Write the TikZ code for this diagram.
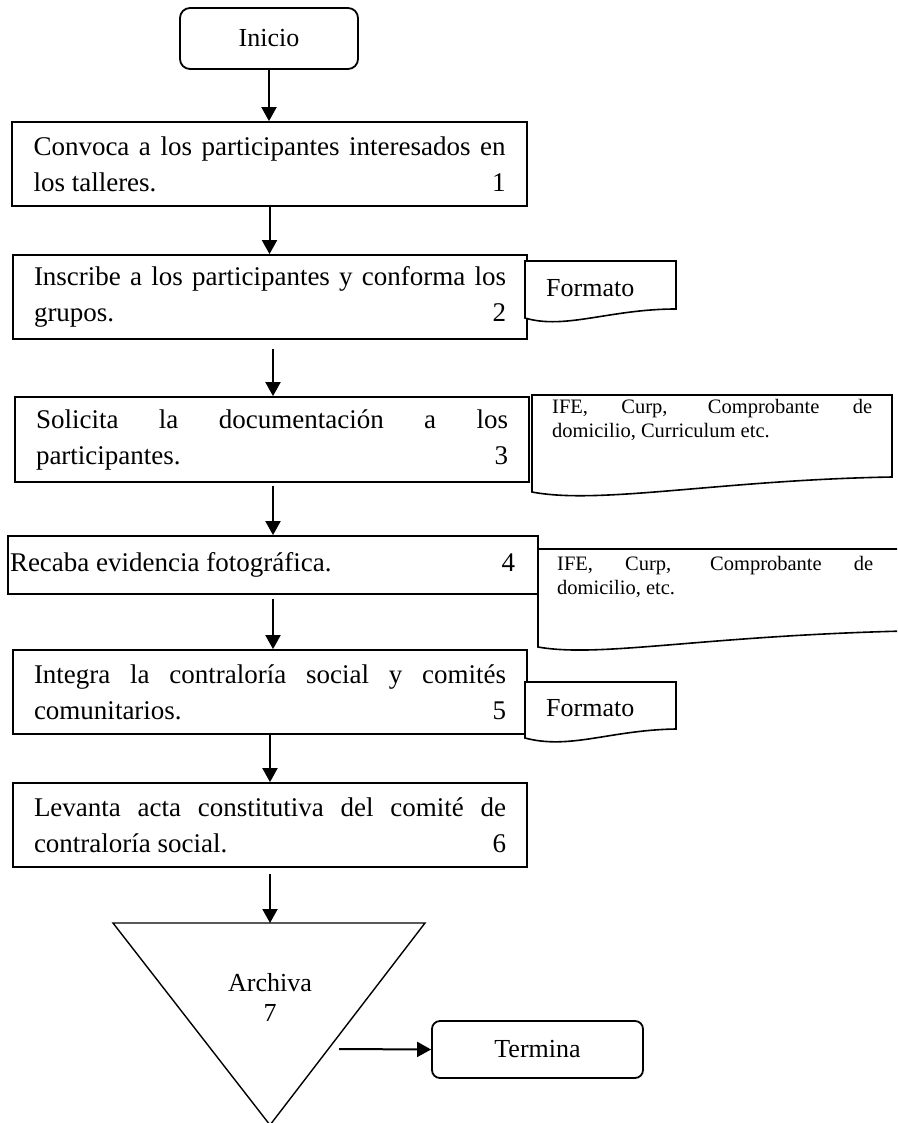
\documentclass[tikz,border=0pt]{standalone}
\usepackage{fontspec}
\setmainfont{Liberation Serif}
\usetikzlibrary{arrows.meta}
\begin{document}
\begin{tikzpicture}[x=1pt,y=-1pt,
  proc/.style={draw, line width=1.8pt, inner sep=0pt, minimum height=84pt,
    font=\fontsize{27}{36}\selectfont},
  term/.style={draw, line width=1.8pt, rounded corners=10pt, inner sep=0pt,
    font=\fontsize{26}{30}\selectfont},
  flow/.style={line width=2pt, -{Triangle[length=14pt,width=15pt]}},
  docline/.style={draw, fill=white, line width=1.6pt},
  doctext/.style={inner sep=0pt, anchor=west},
  small/.style={font=\fontsize{20.5}{23.5}\selectfont},
  big/.style={font=\fontsize{26}{30}\selectfont}
]
\useasboundingbox (0,0) rectangle (897,1123);
\clip (0,0) rectangle (897,1123);

% start and end terminals
\node[term, minimum width=178pt, minimum height=61pt] (ini) at (269,38.5) {Inicio};
\node[term, rounded corners=8pt, minimum width=211pt, minimum height=57pt] (fin) at (537.5,1049.5) {Termina};

% process steps
\node[proc, minimum width=515pt] (b1) at (269.5,164) {\parbox{472pt}{\hyphenpenalty=10000
  Convoca a los participantes interesados en\linebreak los talleres.\hfill 1}};
\node[proc, minimum width=514pt] (b2) at (270,297) {\parbox{472pt}{\hyphenpenalty=10000
  Inscribe a los participantes y conforma los\linebreak grupos.\hfill 2}};
\node[proc, minimum width=514pt, minimum height=85pt] (b3) at (272,439.5) {\parbox{472pt}{\hyphenpenalty=10000
  Solicita la documentación a los\linebreak participantes.\hfill 3}};
\node[proc, minimum width=530pt, minimum height=58pt] (b4) at (273,565) {\parbox{505pt}{Recaba evidencia fotográfica.\hfill 4}\hspace*{21pt}};
\node[proc, minimum width=514pt] (b5) at (270,692) {\parbox{472pt}{\hyphenpenalty=10000
  Integra la contraloría social y comités\linebreak comunitarios.\hfill 5}};
\node[proc, minimum width=514pt] (b6) at (270,825) {\parbox{472pt}{\hyphenpenalty=10000
  Levanta acta constitutiva del comité de\linebreak contraloría social.\hfill 6}};

% archive triangle
\coordinate (tl) at (113,923);
\coordinate (tr) at (425,923);
\coordinate (tb) at (270,1125);
\coordinate (tt) at (270,923);
\coordinate (aout) at (339,1049);
\draw[line width=1.4pt] (tl) -- (tr) -- (tb) -- cycle;
\node[big, align=center, inner sep=0pt] (arch) at (270,997) {Archiva\\7};

% documents attached to the steps
\draw[docline] (525,261) -- (676,261) -- (676,309)
  .. controls (610,309) and (565,330) .. (525,318) -- cycle;
\node[doctext, big] (f1) at (546,288) {Formato};

\draw[docline] (532,395) -- (892,395) -- (892,477)
  .. controls (720,480) and (600,505) .. (532,492) -- cycle;
\node[doctext, small] (n3) at (552,420) {\parbox{320pt}{IFE, Curp, Comprobante de\linebreak domicilio, Curriculum etc.}};

\draw[docline] (538,549) -- (905,549) -- (905,631)
  .. controls (700,636) and (600,658) .. (538,647) -- cycle;
\node[doctext, small] (n4) at (557,577) {\parbox{316pt}{IFE, Curp, Comprobante de\linebreak domicilio, etc.}};

\draw[docline] (525,682) -- (676,682) -- (676,729)
  .. controls (610,730) and (570,750) .. (525,738) -- cycle;
\node[doctext, big] (f2) at (546,708) {Formato};

% flow connectors
\draw[flow] (ini.south) -- (ini.south |- b1.north);
\draw[flow] (b1.south) -- (b1.south |- b2.north);
\draw[flow, shorten <=9pt] ([xshift=3pt]b2.south) -- ([xshift=3pt]b2.south |- b3.north);
\draw[flow, shorten <=3pt] ([xshift=1pt]b3.south) -- ([xshift=1pt]b3.south |- b4.north);
\draw[flow, shorten <=4pt] (b4.south) -- (b4.south |- b5.north);
\draw[flow] (b5.south) -- (b5.south |- b6.north);
\draw[flow, shorten <=6pt] (b6.south) -- (tt);
\draw[flow] (aout) -- (fin.west);
\end{tikzpicture}
\end{document}
